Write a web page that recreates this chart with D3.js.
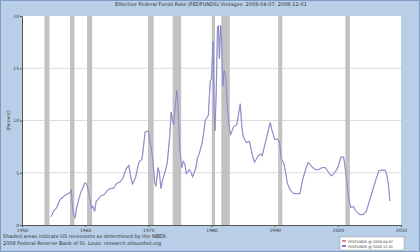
<!DOCTYPE html>
<html>
<head>
<meta charset="utf-8">
<script src="https://cdn.jsdelivr.net/npm/d3@7"></script>
<style>
  html, body { margin: 0; padding: 0; background: #b9cfe8; }
  svg { display: block; }
  text { font-family: "DejaVu Sans", sans-serif; fill: #333; }
</style>
</head>
<body>
<svg id="chart" width="420" height="252"></svg>
<script>
// recessions (decimal years, start/end)
var recStart = [1953.55, 1957.6, 1960.3, 1969.95, 1973.85, 1980.05, 1981.55, 1990.55, 2001.2];
var recEnd   = [1954.35, 1958.3, 1961.1, 1970.85, 1975.2, 1980.55, 1982.9, 1991.2, 2001.9];

// effective fed funds rate
var years = [1954.55, 1954.8, 1955.0, 1955.3, 1955.6, 1955.85, 1956.1, 1956.4, 1956.7, 1957.0, 1957.3, 1957.6, 1957.8,
  1958.0, 1958.2, 1958.4, 1958.6, 1958.8, 1959.0, 1959.3, 1959.6, 1959.9, 1960.1, 1960.3, 1960.55, 1960.8,
  1961.0, 1961.2, 1961.5, 1961.75, 1962.0, 1962.5, 1963.0, 1963.5, 1964.0, 1964.5, 1965.0, 1965.5, 1966.0,
  1966.5, 1966.9, 1967.25, 1967.5, 1968.0, 1968.5, 1969.0, 1969.5, 1970.0, 1970.25, 1970.5, 1970.75, 1971.0,
  1971.2, 1971.55, 1971.75, 1972.0, 1972.25, 1972.5, 1972.75, 1973.0, 1973.4, 1973.6, 1973.85, 1974.0, 1974.3,
  1974.5, 1974.65, 1974.8, 1975.0, 1975.3, 1975.55, 1975.8, 1976.0, 1976.5, 1976.8, 1977.0, 1977.5, 1977.8,
  1978.0, 1978.5, 1978.8, 1979.0, 1979.5, 1979.8, 1980.0, 1980.25, 1980.4, 1980.55, 1980.75, 1980.95, 1981.1,
  1981.25, 1981.45, 1981.6, 1981.8, 1982.0, 1982.25, 1982.5, 1982.75, 1983.0, 1983.5, 1984.0, 1984.55, 1984.8,
  1985.0, 1985.5, 1986.0, 1986.5, 1986.8, 1987.0, 1987.5, 1987.8, 1988.0, 1988.5, 1989.0, 1989.3, 1989.6,
  1990.0, 1990.5, 1990.8, 1991.0, 1991.5, 1991.8, 1992.0, 1992.5, 1993.0, 1993.5, 1994.0, 1994.25, 1994.5,
  1995.0, 1995.3, 1995.6, 1996.0, 1996.5, 1997.0, 1997.5, 1998.0, 1998.6, 1998.9, 1999.2, 1999.6, 2000.0,
  2000.5, 2000.9, 2001.05, 2001.25, 2001.5, 2001.75, 2002.0, 2002.5, 2002.9, 2003.5, 2004.0, 2004.5, 2004.75,
  2005.0, 2005.5, 2006.0, 2006.5, 2007.0, 2007.5, 2007.75, 2008.0, 2008.25];
var rates = [0.8, 1.0, 1.35, 1.5, 1.8, 2.2, 2.5, 2.6, 2.8, 2.9, 3.0, 3.1, 3.4,
  1.6, 0.9, 0.7, 1.5, 2.0, 2.5, 3.1, 3.5, 4.0, 4.0, 3.8, 3.1, 2.3,
  1.6, 1.8, 1.3, 2.3, 2.4, 2.8, 2.9, 3.3, 3.5, 3.5, 4.0, 4.1, 4.5,
  5.4, 5.7, 4.5, 3.9, 4.6, 6.0, 6.3, 8.9, 9.0, 8.0, 7.2, 6.0, 4.1,
  3.7, 5.5, 5.0, 3.5, 4.3, 4.8, 5.3, 6.0, 8.5, 10.8, 10.0, 9.6, 11.5,
  12.9, 12.0, 10.0, 7.1, 5.5, 6.1, 5.8, 4.9, 5.3, 5.0, 4.6, 5.4, 6.5,
  6.7, 7.8, 9.0, 10.0, 10.5, 13.8, 14.0, 17.6, 11.0, 9.0, 12.8, 18.9, 19.1,
  15.9, 19.1, 17.8, 13.3, 14.8, 14.2, 11.3, 9.7, 8.6, 9.4, 9.6, 11.6, 9.4,
  8.5, 7.9, 8.0, 6.6, 6.0, 6.2, 6.7, 6.8, 6.6, 7.8, 9.1, 9.8, 9.0,
  8.2, 8.2, 7.8, 6.4, 5.8, 4.8, 4.0, 3.3, 3.0, 3.0, 3.0, 3.8, 4.5,
  5.5, 6.0, 5.8, 5.5, 5.3, 5.3, 5.5, 5.5, 5.0, 4.7, 4.8, 5.1, 5.5,
  6.5, 6.5, 6.0, 5.0, 3.8, 2.5, 1.7, 1.75, 1.3, 1.0, 1.0, 1.3, 1.8,
  2.3, 3.3, 4.3, 5.2, 5.25, 5.25, 4.8, 3.9, 2.3];

var yTicks = [0, 5, 10, 15, 20];
var xTicks = [1950, 1960, 1970, 1980, 1990, 2000, 2010];
var title = "Effective Federal Funds Rate (FEDFUNDS) Vintages: 2008-04-07, 2008-12-01";
var vintages = ["FEDFUNDS @ 2008-04-07", "FEDFUNDS @ 2008-12-01"];
var vintageColors = ["#d06070", "#5050b8"];

var svg = d3.select("#chart");

var margin = {top: 16, right: 19, bottom: 27, left: 22},
  width = 420 - margin.left - margin.right,
  height = 252 - margin.top - margin.bottom;

var x = d3.scaleLinear().domain([1950, 2010]).range([0, width]);
var y = d3.scaleLinear().domain([0, 20]).range([height, 0]);

// outer frame
svg.append("rect").attr("x", 0.5).attr("y", 0.5).attr("width", 419).attr("height", 251)
  .attr("fill", "#b9cfe8").attr("stroke", "#7f9cc4");

svg.append("text").attr("x", 211).attr("y", 6).attr("text-anchor", "middle")
  .attr("font-size", 5).text(title);

var g = svg.append("g").attr("transform", "translate(" + margin.left + "," + margin.top + ")");

g.append("rect").attr("width", width).attr("height", height).attr("fill", "#fff");

// grid
g.selectAll(".grid").data(yTicks.slice(1, -1)).enter().append("line")
  .attr("x1", 0).attr("x2", width)
  .attr("y1", function(d) { return y(d); }).attr("y2", function(d) { return y(d); })
  .attr("stroke", "#dcdcdc").attr("stroke-width", 1);

// recession bars
g.selectAll(".rec").data(recStart).enter().append("rect")
  .attr("x", function(d) { return x(d); })
  .attr("width", function(d, i) { return x(recEnd[i]) - x(d); })
  .attr("y", 0).attr("height", height)
  .attr("fill", "#c2c2c2");

var line = d3.line()
  .x(function(d, i) { return x(years[i]); })
  .y(function(d) { return y(d); });

g.append("path").datum(rates).attr("d", line)
  .attr("fill", "none").attr("stroke", "#b4b4dc").attr("stroke-width", 1.2);
g.append("path").datum(rates).attr("d", line)
  .attr("fill", "none").attr("stroke", "#7474bc").attr("stroke-width", 0.6);

// axes
var yAxis = g.append("g").call(d3.axisLeft(y).tickValues(yTicks).tickSize(2).tickFormat(d3.format("d")));
var xAxis = g.append("g").attr("transform", "translate(0," + height + ")")
  .call(d3.axisBottom(x).tickValues(xTicks).tickSize(2).tickFormat(d3.format("d")));
[xAxis, yAxis].forEach(function(a) {
  a.selectAll("text").attr("font-size", 4.5).attr("fill", "#333");
  a.selectAll("line").attr("stroke", "#555");
  a.select(".domain").attr("stroke", "#555");
});
yAxis.selectAll("text").attr("x", -3);
xAxis.selectAll("text").attr("y", 4);

svg.append("text").attr("transform", "translate(10," + (margin.top + height / 2) + ") rotate(-90)")
  .attr("text-anchor", "middle").attr("font-size", 4.5).text("(Percent)");

// footnotes
svg.append("text").attr("x", 3).attr("y", 238).attr("font-size", 5)
  .text("Shaded areas indicate US recessions as determined by the NBER.");
svg.append("text").attr("x", 3).attr("y", 245).attr("font-size", 5)
  .text("2008 Federal Reserve Bank of St. Louis: research.stlouisfed.org");

// legend
var lg = svg.append("g").attr("transform", "translate(340,237)");
lg.append("rect").attr("width", 64).attr("height", 13).attr("fill", "#fff").attr("stroke", "#999").attr("stroke-width", 0.5);
vintages.forEach(function(v, i) {
  lg.append("line").attr("x1", 2).attr("x2", 6).attr("y1", 4 + i * 5).attr("y2", 4 + i * 5)
    .attr("stroke", vintageColors[i]).attr("stroke-width", 1.5);
  lg.append("text").attr("x", 8).attr("y", 5.5 + i * 5).attr("font-size", 3.5).text(v);
});
</script>
</body>
</html>
